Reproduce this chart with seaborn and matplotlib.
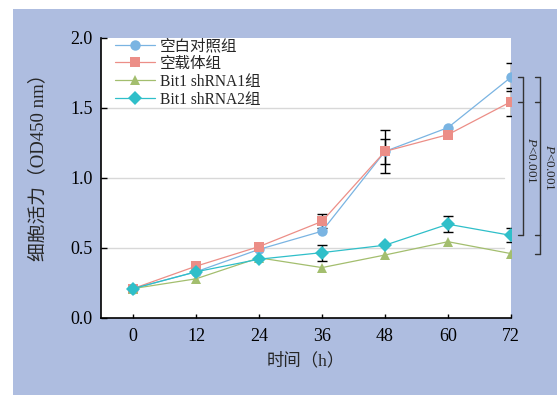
import numpy as np
import pandas as pd
import matplotlib
matplotlib.use("Agg")
import matplotlib.pyplot as plt
from matplotlib.patches import Rectangle
import seaborn as sns

# ---- data ----
times = [0, 12, 24, 36, 48, 60, 72]
groups = ["空白对照组", "空载体组", "Bit1 shRNA1组", "Bit1 shRNA2组"]
ctrl = [0.21, 0.33, 0.49, 0.62, 1.19, 1.36, 1.72]
vec = [0.21, 0.37, 0.51, 0.69, 1.19, 1.31, 1.545]
sh1 = [0.21, 0.28, 0.43, 0.36, 0.45, 0.545, 0.46]
sh2 = [0.21, 0.33, 0.42, 0.467, 0.52, 0.67, 0.59]
ctrl_err = [0, 0, 0, 0, 0.155, 0, 0.10]
vec_err = [0, 0, 0, 0.05, 0.09, 0, 0.10]
sh1_err = [0, 0, 0, 0, 0, 0, 0]
sh2_err = [0, 0, 0, 0.057, 0, 0.058, 0.05]
xticks = [0, 12, 24, 36, 48, 60, 72]
yticks = [0.0, 0.5, 1.0, 1.5, 2.0]
sig_label = r"$\it{P}$<0.001"

sns.set_style("ticks")
serif_cjk = ["Liberation Serif", "Noto Sans CJK SC"]
plt.rcParams["font.family"] = serif_cjk
plt.rcParams["mathtext.fontset"] = "custom"
plt.rcParams["mathtext.rm"] = "Liberation Serif"
plt.rcParams["mathtext.it"] = "Liberation Serif:italic"
plt.rcParams["axes.unicode_minus"] = False

colors = {"空白对照组": "#7AB4E2", "空载体组": "#EC8E87",
          "Bit1 shRNA1组": "#A3BE6E", "Bit1 shRNA2组": "#2FBFC9"}
markers = {"空白对照组": "o", "空载体组": "s",
           "Bit1 shRNA1组": "^", "Bit1 shRNA2组": "D"}

vals = [ctrl, vec, sh1, sh2]
errs = [ctrl_err, vec_err, sh1_err, sh2_err]
df = pd.DataFrame({
    "time": np.tile(times, len(groups)),
    "od": np.concatenate(vals),
    "group": np.repeat(groups, len(times)),
})

W, H = 557, 395
fig = plt.figure(figsize=(W / 100, H / 100), dpi=100)
fig.patch.set_facecolor("white")
fig.patches.append(Rectangle((13 / W, 0), 1, (H - 8.5) / H, transform=fig.transFigure,
                             facecolor="#AEBDE0", edgecolor="none", zorder=-10))

ax = fig.add_axes([101 / W, (H - 318) / H, 410 / W, 280 / H])
ax.set_facecolor("white")
ax.set_zorder(1)

# error bars (behind markers)
for g, v, e in zip(groups, vals, errs):
    t = [x for x, ee in zip(times, e) if ee > 0]
    vv = [y for y, ee in zip(v, e) if ee > 0]
    ee2 = [ee for ee in e if ee > 0]
    if t:
        ax.errorbar(t, vv, yerr=ee2, fmt="none", ecolor="black", elinewidth=1.0,
                    capsize=3.5, capthick=1.0, zorder=1.5)

sns.lineplot(data=df, x="time", y="od", hue="group", style="group",
             hue_order=groups, style_order=groups, palette=colors,
             markers=markers, dashes=False, linewidth=0.9, markersize=7.5,
             markeredgewidth=0, ax=ax, zorder=2)

for y in [0.5, 1.0, 1.5]:
    ax.axhline(y, xmin=0, xmax=0.983, color="#D8D8D8", lw=1.0, zorder=0.5)

ax.set_xlim(-6.1, 72)
ax.set_ylim(0, 2.0)
ax.set_xticks(xticks)
ax.set_yticks(yticks)
ax.set_xticklabels([str(t) for t in xticks])
ax.set_yticklabels([f"{t:.1f}" for t in yticks])
ax.tick_params(axis="both", direction="in", labelsize=13, colors="black", width=1.0)
ax.tick_params(axis="y", length=4, pad=6)
ax.tick_params(axis="x", length=3, pad=7)
for s in ["top", "right"]:
    ax.spines[s].set_visible(False)
for s in ["left", "bottom"]:
    ax.spines[s].set_color("black")
    ax.spines[s].set_linewidth(1.2)
ax.set_xlabel("")
ax.set_ylabel("")

fig.text(306 / W, (H - 361) / H, "时间（h）", ha="center", va="center", fontsize=12.5)
fig.text(38.5 / W, (H - 163) / H, "细胞活力（OD450 nm）", ha="center", va="center",
         rotation=90, fontsize=13.5)

handles, labels = ax.get_legend_handles_labels()
ax.legend(handles, labels, loc="upper left", bbox_to_anchor=(0.034, 1.0), frameon=False,
          borderaxespad=0, borderpad=0, handlelength=2.6, handletextpad=0.3,
          labelspacing=0.12, fontsize=11.2)

# significance brackets
def px2x(px):
    return (px - 133) / 5.236

def bracket(xline, xtick, ytop, ybot, ticks):
    ax.plot([px2x(xline), px2x(xline)], [ybot, ytop], color="#333333", lw=1.0, clip_on=False)
    for yy in ticks:
        ax.plot([px2x(xtick), px2x(xline)], [yy, yy], color="#333333", lw=1.0, clip_on=False)

bracket(522, 517, ctrl[-1], sh2[-1], [ctrl[-1], vec[-1], sh2[-1]])
bracket(539, 534, ctrl[-1], sh1[-1], [ctrl[-1], vec[-1], sh2[-1], sh1[-1]])
ax.text(px2x(530), (318 - 160) / 140, sig_label, rotation=-90, ha="center", va="center",
        fontsize=9.5, clip_on=False)
ax.text(px2x(548), (318 - 167) / 140, sig_label, rotation=-90, ha="center", va="center",
        fontsize=9.5, clip_on=False)

fig.savefig("out.png", dpi=100, facecolor="white")
